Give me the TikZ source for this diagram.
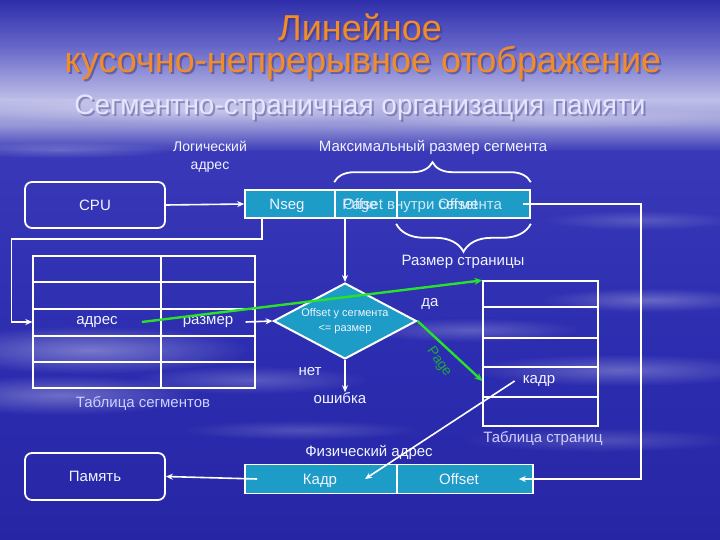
\documentclass[tikz,border=0pt]{standalone}
\usepackage{fontspec}
\setmainfont{Liberation Sans}
\usetikzlibrary{arrows.meta,shapes.geometric,decorations.pathreplacing,fadings}
\definecolor{teal1}{RGB}{28,156,198}
\definecolor{lgreen}{RGB}{40,225,40}
\definecolor{pgreen}{RGB}{30,170,60}
\definecolor{ttl}{RGB}{242,140,40}
\definecolor{ttlsh}{RGB}{60,50,120}
\definecolor{sub}{RGB}{228,230,255}
\definecolor{txt}{RGB}{242,244,255}
\definecolor{bgA}{RGB}{46,46,170}
\definecolor{bgB}{RGB}{100,100,200}
\definecolor{bgC}{RGB}{190,190,232}
\definecolor{bgD}{RGB}{150,150,215}
\definecolor{bgE}{RGB}{56,56,184}
\definecolor{bgF}{RGB}{44,44,176}
\definecolor{bgG}{RGB}{38,38,165}
\tikzfading[name=softfade, inner color=transparent!10, outer color=transparent!100]
\begin{document}
\begin{tikzpicture}[x=1pt,y=-1pt,
  wline/.style={draw=white, line width=1.6pt},
  arr/.style={wline, -{Stealth[length=7pt,width=6pt]}},
  garr/.style={draw=lgreen, line width=2.4pt, -{Stealth[length=8pt,width=7pt]}},
  cell/.style={draw=white, line width=1.6pt, fill=teal1, inner sep=0pt},
  rbox/.style={draw=white, line width=1.8pt, rounded corners=7pt, inner sep=0pt},
  tabbox/.style={draw=white, line width=1.3pt, inner sep=0pt},
  lbl/.style={text=txt, font=\fontsize{15}{18}\selectfont, inner sep=0pt},
  smalltxt/.style={text=txt, font=\fontsize{11}{15}\selectfont, inner sep=0pt, align=center},
  captxt/.style={text=txt!85!blue, font=\fontsize{15}{18}\selectfont, inner sep=0pt},
  cloud/.style={fill=white, path fading=softfade}
]
\useasboundingbox (0,0) rectangle (720,540);
% background
\shade[top color=bgA, bottom color=bgB] (0,0) rectangle (720,45);
\shade[top color=bgB, bottom color=bgC] (0,45) rectangle (720,100);
\shade[top color=bgC, bottom color=bgD] (0,100) rectangle (720,125);
\shade[top color=bgD, bottom color=bgE] (0,125) rectangle (720,152);
\shade[top color=bgE, bottom color=bgF] (0,152) rectangle (720,360);
\shade[top color=bgF, bottom color=bgG] (0,360) rectangle (720,540);
\fill[cloud, opacity=0.35] (200,110) ellipse [x radius=260pt, y radius=14pt];
\fill[cloud, opacity=0.3] (560,118) ellipse [x radius=220pt, y radius=10pt];
\fill[cloud, opacity=0.25] (60,150) ellipse [x radius=120pt, y radius=8pt];
\fill[cloud, opacity=0.4] (90,350) ellipse [x radius=160pt, y radius=24pt];
\fill[cloud, opacity=0.35] (60,395) ellipse [x radius=140pt, y radius=20pt];
\fill[cloud, opacity=0.25] (250,380) ellipse [x radius=120pt, y radius=14pt];
\fill[cloud, opacity=0.3] (650,300) ellipse [x radius=110pt, y radius=12pt];
\fill[cloud, opacity=0.3] (620,370) ellipse [x radius=150pt, y radius=16pt];
\fill[cloud, opacity=0.25] (470,330) ellipse [x radius=110pt, y radius=12pt];
\fill[cloud, opacity=0.2] (600,440) ellipse [x radius=140pt, y radius=12pt];
\fill[cloud, opacity=0.2] (300,430) ellipse [x radius=120pt, y radius=10pt];
\fill[cloud, opacity=0.2] (640,220) ellipse [x radius=100pt, y radius=10pt];
% titles
\node[text=ttlsh, opacity=0.5, font=\fontsize{36}{40}\selectfont, inner sep=0pt] at (362,29) {Линейное};
\node[text=ttl, font=\fontsize{36}{40}\selectfont, inner sep=0pt] (t1) at (360,27) {Линейное};
\node[text=ttlsh, opacity=0.5, font=\fontsize{36}{40}\selectfont, inner sep=0pt] at (365,65) {кусочно-непрерывное отображение};
\node[text=ttl, font=\fontsize{36}{40}\selectfont, inner sep=0pt] (t2) at (363,63) {кусочно-непрерывное отображение};
\node[text=ttlsh, opacity=0.4, font=\fontsize{28}{32}\selectfont, inner sep=0pt] at (362,110) {Сегментно-страничная организация памяти};
\node[text=sub, font=\fontsize{28}{32}\selectfont, inner sep=0pt] (t3) at (360,108) {Сегментно-страничная организация памяти};
% labels
\node[lbl, align=center, font=\fontsize{14}{18}\selectfont] (la) at (210,157) {Логический\\адрес};
\node[lbl] (ms) at (433,147) {Максимальный размер сегмента};
% CPU
\node[rbox, minimum width=140pt, minimum height=46pt] (cpu) at (95,205) {};
\node[lbl] (cput) at (cpu) {CPU};
% logical address
\node[cell, minimum width=90pt, minimum height=28pt] (nseg) at (290,204) {};
\node[cell, minimum width=62pt, minimum height=28pt] (pg) at (366,204) {};
\node[cell, minimum width=133pt, minimum height=28pt] (off) at (463.5,204) {};
\node[lbl, anchor=base] (nsegt) at (287,210) {Nseg};
\node[lbl, anchor=base west, text opacity=0.85] (ovs) at (343,210) {Offset внутри сегмента};
\node[lbl, anchor=base, text opacity=0.85] (pgt) at (360,210) {Page};
\node[lbl, anchor=base, text opacity=0.85] (offt) at (458,210) {Offset};
% braces
\draw[white, line width=1.8pt, decorate, decoration={brace, amplitude=20pt}]
  ([yshift=7pt]pg.north west) -- ([yshift=7pt]off.north east);
\draw[white, line width=1.8pt, decorate, decoration={brace, amplitude=28pt}]
  ([yshift=-5pt]off.south east) -- ([yshift=-5pt]off.south west);
\node[lbl] (ps) at (463,262) {Размер страницы};
% CPU -> address
\draw[arr] (cpu.east) -- (nseg.west);
% segment table
\node[tabbox, minimum width=222pt, minimum height=132pt] (segtab) at (144,322) {};
\draw[white, line width=1.3pt] (161,256) -- (161,388);
\foreach \yy in {282,309,336,362} \draw[white, line width=1.3pt] (33,\yy) -- (255,\yy);
\node[lbl] (addr) at (97,322) {адрес};
\node[lbl] (size) at (208,322) {размер};
\node[captxt] (segcap) at (143,403) {Таблица сегментов};
% Nseg -> segment table
\draw[arr] ([xshift=18pt]nseg.south west) -- ++(0,20) -| ([xshift=-21pt]segtab.west) -- (segtab.west);
% diamond
\node[diamond, draw=white, line width=2pt, fill=teal1, minimum width=143pt, minimum height=76pt, inner sep=0pt] (dia) at (345,321) {};
\node[smalltxt] (diat) at (345,321) {Offset у сегмента\\<= размер};
\draw[arr] ([xshift=-10pt]segtab.east) -- (dia.west);
\draw[arr] (dia.north |- pg.south) -- (dia.north);
\node[lbl] (err) at (340,398) {ошибка};
\draw[arr] (dia.south) -- (dia.south |- err.north);
\node[lbl] (no) at (310,372) {нет};
\node[lbl] (yes) at (430,304) {да};
% page table
\node[tabbox, minimum width=115pt, minimum height=145pt] (ptab) at (540.5,353.5) {};
\foreach \yy in {307,338,367,397} \draw[white, line width=1.3pt] (483,\yy) -- (598,\yy);
\node[lbl] (kadr) at (539,381) {кадр};
\node[captxt] (ptcap) at (543,439) {Таблица страниц};
% green arrows
\draw[garr] ([xshift=24pt]addr.east) -- (ptab.north west);
\draw[garr] (dia.east) -- (ptab.west |- kadr);
\node[text=pgreen, font=\fontsize{14}{16}\selectfont, rotate=-55, inner sep=0pt] (pgl) at (439,362) {Page};
% physical address
\node[lbl] (phys) at (369,452) {Физический адрес};
\node[cell, minimum width=152pt, minimum height=29pt] (pkadr) at (321,479) {};
\node[cell, minimum width=136pt, minimum height=29pt] (poff) at (465,479) {};
\node[lbl, anchor=base] (pkadrt) at (320,484) {Кадр};
\node[lbl, anchor=base] (pofft) at (459,484) {Offset};
\node[rbox, minimum width=140pt, minimum height=47pt] (mem) at (95,476.5) {};
\node[lbl] (memt) at (mem) {Память};
\draw[arr] ([xshift=13pt]pkadr.west) -- (mem.east);
\coordinate (rb) at (641,479);
\draw[arr] ([xshift=-8pt]off.east) -| (rb) -- ([xshift=-15pt]poff.east);
\draw[arr] ([xshift=-8pt]kadr.west) -- ([xshift=44pt]pkadr.center);
\end{tikzpicture}
\end{document}
